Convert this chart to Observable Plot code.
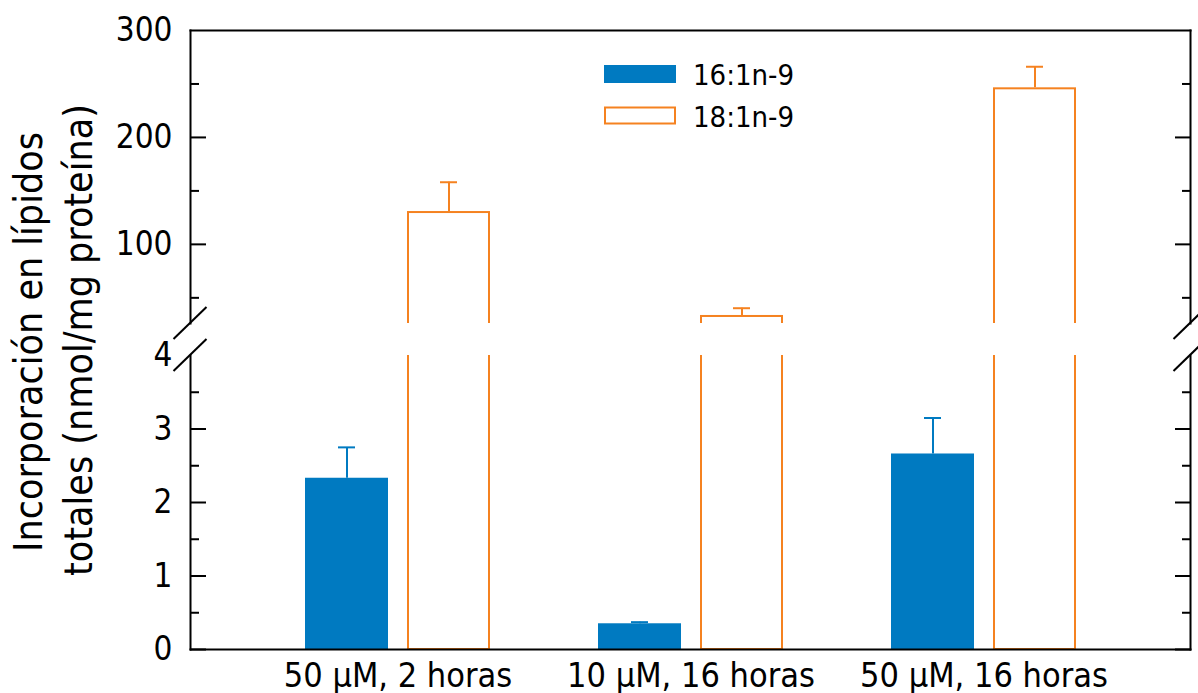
<!DOCTYPE html>
<html>
<head>
<meta charset="utf-8">
<script src="https://cdn.jsdelivr.net/npm/d3@7"></script>
<script src="https://cdn.jsdelivr.net/npm/@observablehq/plot@0.6"></script>
<style>
  body { margin: 0; background: white; }
  #chart { position: relative; width: 1198px; height: 693px; font-family: "DejaVu Sans Condensed", "DejaVu Sans", sans-serif; }
  #chart svg { position: absolute; left: 0; }
</style>
</head>
<body>
<div id="chart"></div>
<script>
// ---- data ----
const conditions = ["50 μM, 2 horas", "10 μM, 16 horas", "50 μM, 16 horas"];
const seriesNames = ["16:1n-9", "18:1n-9"];
const values16 = [2.33, 0.35, 2.66];
const errors16 = [0.42, 0.022, 0.49];
const values18 = [130.7, 33.5, 246.4];
const errors18 = [27.4, 6.8, 19.7];
const upperDomain = [26, 300];
const lowerDomain = [0, 4];
const upperTicks = [100, 200, 300];
const upperMajorMarks = [100, 200];
const upperMinor = [50, 150, 250];
const lowerTicks = [0, 1, 2, 3, 4];
const lowerMajorMarks = [0, 1, 2, 3];
const lowerMinor = [0.5, 1.5, 2.5, 3.5];
const titleLines = ["Incorporación en lípidos", "totales (nmol/mg proteína)"];
const colors = ["#007AC1", "#F58220"];

const rows = [];
conditions.forEach((c, i) => {
  rows.push({cond: c, series: seriesNames[0], value: values16[i], err: errors16[i]});
  rows.push({cond: c, series: seriesNames[1], value: values18[i], err: errors18[i]});
});

const W = 1198, ML = 190, MR = 8;
const FONT = "DejaVu Sans Condensed";
const chart = document.getElementById("chart");

const fxOpts = {type: "band", domain: conditions, paddingInner: 0, paddingOuter: 0.202};
const xOpts = {domain: seriesNames, paddingInner: 0.1845, paddingOuter: 0.518, axis: null};
const colorOpts = {domain: seriesNames, range: colors};
const baseStyle = {background: "transparent", overflow: "visible", fontFamily: FONT};
const fmt = d => String(d);

function barsPlot(domain, height, marginTop, marginBottom) {
  return Plot.plot({
    width: W, height, marginTop, marginBottom, marginLeft: ML, marginRight: MR,
    facet: {marginTop: 0, marginRight: 0, marginBottom: 0, marginLeft: 0},
    fx: {...fxOpts, axis: null},
    x: xOpts,
    y: {domain, axis: null},
    color: colorOpts,
    style: baseStyle,
    marks: [
      Plot.barY(rows.filter(d => d.series === seriesNames[0]), {fx: "cond", x: "series", y: "value", fill: "series", clip: true}),
      Plot.barY(rows.filter(d => d.series === seriesNames[1]), {fx: "cond", x: "series", y: "value", fill: "none", stroke: "series", strokeWidth: 2, insetLeft: 1, insetRight: 1, insetTop: 1, insetBottom: 0, clip: true}),
      Plot.ruleX(rows, {fx: "cond", x: "series", y1: "value", y2: d => d.value + d.err, stroke: "series", strokeWidth: 2, clip: true}),
      Plot.tickY(rows, {fx: "cond", x: "series", y: d => d.value + d.err, stroke: "series", strokeWidth: 2, insetLeft: 33, insetRight: 33, clip: true})
    ]
  });
}

function axesPlot(domain, height, marginTop, marginBottom, labels, major, minor, frameSide, showX) {
  const marks = [
    Plot.frame({anchor: "left", strokeWidth: 2}),
    Plot.frame({anchor: "right", strokeWidth: 2}),
    Plot.frame({anchor: frameSide, strokeWidth: 2}),
    Plot.axisY(labels, {anchor: "left", tickSize: 0, tickPadding: 18, fontSize: 33, tickFormat: fmt, label: null}),
    Plot.axisY(major, {anchor: "left", tickSize: -16, text: null, strokeWidth: 2, label: null}),
    Plot.axisY(minor, {anchor: "left", tickSize: -9, text: null, strokeWidth: 2, label: null}),
    Plot.axisY(major, {anchor: "right", tickSize: -16, text: null, strokeWidth: 2, label: null}),
    Plot.axisY(minor, {anchor: "right", tickSize: -9, text: null, strokeWidth: 2, label: null})
  ];
  if (showX) marks.push(Plot.axisX({anchor: "bottom", tickSize: 0, tickPadding: 13, fontSize: 34, label: null}));
  return Plot.plot({
    width: W, height, marginTop, marginBottom, marginLeft: ML, marginRight: MR,
    x: {...fxOpts, axis: null},
    y: {domain, axis: null},
    style: baseStyle,
    marks
  });
}

function addBreaks(svg, yValue) {
  const y = svg.scale("y").apply(yValue);
  const sel = d3.select(svg);
  for (const x of [ML, W - MR]) {
    sel.append("line")
      .attr("x1", x - 16.5).attr("y1", y + 16)
      .attr("x2", x + 16.5).attr("y2", y - 16)
      .attr("stroke", "black").attr("stroke-width", 2);
  }
}

function place(svg, top) {
  svg.style.top = top + "px";
  chart.appendChild(svg);
}

// upper panel
const upperBars = barsPlot(upperDomain, 340, 30, 17);
const upperAxes = axesPlot(upperDomain, 340, 30, 17, upperTicks, upperMajorMarks, upperMinor, "top", false);
addBreaks(upperAxes, upperDomain[0]);
place(upperBars, 0);
place(upperAxes, 0);

// lower panel
const lowerBars = barsPlot(lowerDomain, 353, 15, 44);
const lowerAxes = axesPlot(lowerDomain, 353, 15, 44, lowerTicks, lowerMajorMarks, lowerMinor, "bottom", true);
addBreaks(lowerAxes, lowerDomain[1]);
place(lowerBars, 340);
place(lowerAxes, 340);

// legend and y title
const deco = d3.create("svg").attr("width", W).attr("height", 693)
  .style("top", "0px").style("overflow", "visible").style("font-family", FONT);
seriesNames.forEach((s, i) => {
  const g = deco.append("g").attr("transform", `translate(604,${65 + i * 41.5})`);
  if (i === 0) g.append("rect").attr("width", 72).attr("height", 18).attr("fill", colors[0]);
  else g.append("rect").attr("x", 1).attr("y", 1).attr("width", 70).attr("height", 16)
        .attr("fill", "none").attr("stroke", colors[1]).attr("stroke-width", 2);
  g.append("text").attr("x", 89).attr("y", 20).attr("font-size", 29).text(s);
});
titleLines.forEach((t, i) => {
  deco.append("text")
    .attr("transform", `translate(${42 + i * 50},${342 - i * 2}) rotate(-90)`)
    .attr("text-anchor", "middle").attr("font-size", 39).text(t);
});
chart.appendChild(deco.node());
</script>
</body>
</html>
